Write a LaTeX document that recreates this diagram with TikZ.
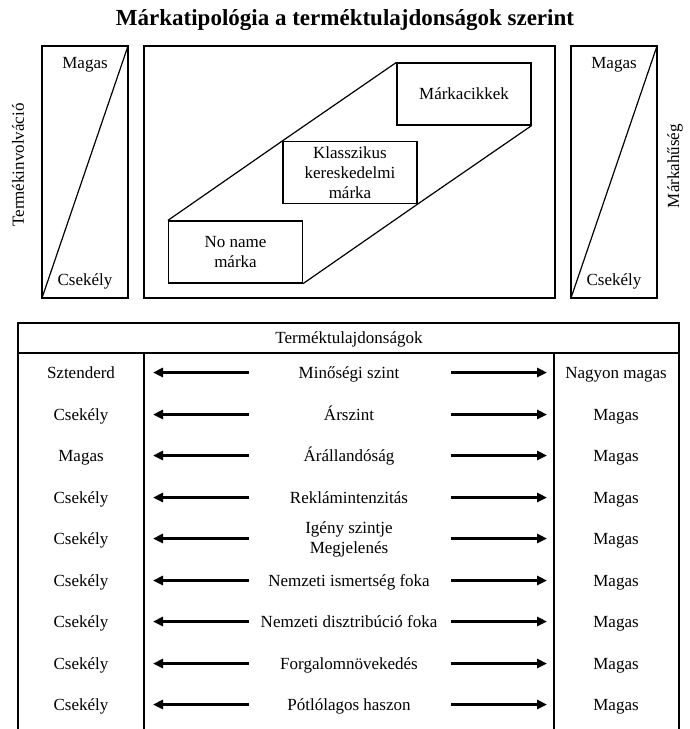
\documentclass[tikz,border=0pt]{standalone}
\usepackage{fontspec}
\setmainfont{Liberation Serif}
\usetikzlibrary{arrows.meta}
\begin{document}
\begin{tikzpicture}[x=1pt,y=-1pt,
  txt/.style={font=\fontsize{17}{20}\selectfont, align=center, inner sep=0pt},
  rowtxt/.style={txt, anchor=base, yshift=-5.5pt},
  sidetxt/.style={font=\fontsize{17}{20}\selectfont, inner sep=0pt, rotate=90},
  brandbox/.style={draw, line width=1.2pt, minimum width=134pt, minimum height=62pt, inner sep=2pt, txt},
  frame/.style={line width=1.2pt},
  dirarrow/.style={line width=2.6pt, -{Triangle[length=10pt,width=9pt]}}]
\useasboundingbox (0,0) rectangle (690,729);

% title
\node[font=\fontsize{23}{27}\bfseries\selectfont, inner sep=0pt] (title) at (345,20) {Márkatipológia a terméktulajdonságok szerint};

% left scale: product involvement
\draw[frame] (42,46) rectangle (128,298);
\draw[frame] (42,298) -- (128,46);
\node[txt] (lhigh) at (85,65) {Magas};
\node[txt] (llow) at (85,281) {Csekély};
\node[sidetxt] (linv) at (18,165) {Termékinvolváció};

% right scale: brand loyalty
\draw[frame] (571,46) rectangle (657,298);
\draw[frame] (571,298) -- (657,46);
\node[txt] (rhigh) at (614,65) {Magas};
\node[txt] (rlow) at (614,281) {Csekély};
\node[sidetxt] (rloy) at (675,166) {Márkahűség};

% central panel with the three brand types
\draw[frame] (144,46) rectangle (555,298);
\node[brandbox] (noname) at (235.5,252) {No name\\márka};
\node[brandbox] (classic) at (350,172.5) {Klasszikus\\kereskedelmi\\márka};
\node[brandbox] (branded) at (464,94) {Márkacikkek};
\draw[frame] (noname.north west) -- (classic.north west) -- (branded.north west);
\draw[frame] (noname.south east) -- (classic.south east) -- (branded.south east);

% product attribute table
\draw[frame] (18,729) -- (18,323) -- (679,323) -- (679,729);
\draw[frame] (18,353) -- (679,353);
\draw[frame] (144,353) -- (144,729);
\draw[frame] (554,353) -- (554,729);
\node[rowtxt] (head) at (349,338) {Terméktulajdonságok};

\foreach \i/\y/\lo/\mid/\hi in {
  1/372.5/Sztenderd/Minőségi szint/Nagyon magas,
  2/414.5/Csekély/Árszint/Magas,
  3/455.5/Magas/Árállandóság/Magas,
  4/497.5/Csekély/Reklámintenzitás/Magas,
  6/580.5/Csekély/Nemzeti ismertség foka/Magas,
  7/621.5/Csekély/Nemzeti disztribúció foka/Magas,
  8/663.5/Csekély/Forgalomnövekedés/Magas,
  9/704.5/Csekély/Pótlólagos haszon/Magas}{
  \node[rowtxt] (lo\i) at (81,\y) {\lo};
  \node[rowtxt] (mid\i) at (349,\y) {\mid};
  \node[rowtxt] (hi\i) at (616,\y) {\hi};
}
% the two-line row
\node[rowtxt] (lo5) at (81,538.5) {Csekély};
\node[txt] (mid5) at (349,539) {Igény szintje\\Megjelenés};
\node[rowtxt] (hi5) at (616,538.5) {Magas};

\foreach \i/\y in {1/372.5,2/414.5,3/455.5,4/497.5,5/538.5,6/580.5,7/621.5,8/663.5,9/704.5}{
  \coordinate (ls\i) at (249,\y);
  \coordinate (lt\i) at (153,\y);
  \coordinate (rs\i) at (451,\y);
  \coordinate (rt\i) at (547,\y);
  \draw[dirarrow] (ls\i) -- (lt\i);
  \draw[dirarrow] (rs\i) -- (rt\i);
}
\end{tikzpicture}
\end{document}
